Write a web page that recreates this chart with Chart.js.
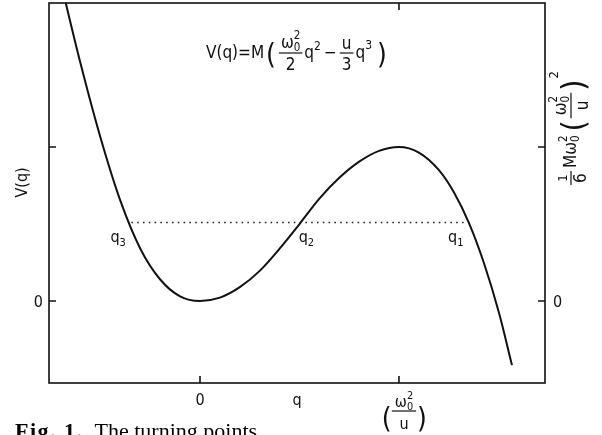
<!DOCTYPE html>
<html>
<head>
<meta charset="utf-8">
<script src="https://cdn.jsdelivr.net/npm/chart.js@4.4.1/dist/chart.umd.min.js"></script>
<style>
  html, body { margin: 0; padding: 0; background: #fff; }
  canvas { display: block; }
</style>
</head>
<body>
<canvas id="potentialChart" width="602" height="435"></canvas>
<script>
// q in units of (w0^2/u), V in units of (1/6) M w0^2 (w0^2/u)^2
const curveQ = [-0.70, -0.60, -0.50, -0.40, -0.30, -0.20, -0.10, 0, 0.10, 0.20, 0.30, 0.40, 0.50, 0.60, 0.70, 0.80, 0.90, 1.00, 1.10, 1.20, 1.276, 1.352, 1.427, 1.503, 1.568];
const curveV = [2.07, 1.54, 1.06, 0.65, 0.34, 0.14, 0.03, 0, 0.022, 0.090, 0.196, 0.34, 0.50, 0.665, 0.80, 0.905, 0.975, 1.0, 0.964, 0.851, 0.706, 0.506, 0.247, -0.078, -0.416];

// energy level and the three turning points q3, q2, q1
const levelQ = [-0.345, 1.345];
const levelV = [0.51, 0.51];
const turningQ = [-0.355, 0.506, 1.352];
const turningNames = ["3", "2", "1"];

const xTicks = [0, 1];
const yTicks = [0, 1];

const ink = "#111";
const FONT = '"DejaVu Sans Condensed", "Liberation Sans Narrow", "DejaVu Sans", sans-serif';

function setFont(ctx, size) {
  ctx.font = size + "px " + FONT;
}
function textW(ctx, s, size) {
  setFont(ctx, size);
  return ctx.measureText(s).width;
}
function put(ctx, s, x, y, size) {
  setFont(ctx, size);
  ctx.fillText(s, x, y);
  return ctx.measureText(s).width;
}
// omega with subscript 0 and superscript 2
function omegaW(ctx, size) {
  return textW(ctx, "ω", size) + textW(ctx, "0", size * 0.68);
}
function omega(ctx, x, y, size) {
  const w = put(ctx, "ω", x, y, size);
  const s = size * 0.68;
  put(ctx, "0", x + w, y + size * 0.2, s);
  put(ctx, "2", x + w, y - size * 0.52, s);
  return omegaW(ctx, size);
}
function bar(ctx, x1, x2, y) {
  ctx.beginPath();
  ctx.moveTo(x1, y);
  ctx.lineTo(x2, y);
  ctx.stroke();
}

const decor = {
  id: "decor",
  afterDatasetsDraw(chart) {
    const { ctx, chartArea: a, scales } = chart;
    const x = scales.x, y = scales.y;
    const S = 16, s = 11;
    ctx.save();
    ctx.strokeStyle = ink;
    ctx.fillStyle = ink;
    ctx.textBaseline = "alphabetic";

    // frame
    ctx.lineWidth = 1.6;
    ctx.strokeRect(a.left, a.top, a.right - a.left, a.bottom - a.top);

    // inward ticks
    ctx.beginPath();
    xTicks.forEach(v => {
      const px = x.getPixelForValue(v);
      ctx.moveTo(px, a.bottom); ctx.lineTo(px, a.bottom - 7);
    });
    const topTick = x.getPixelForValue(xTicks[1]);
    ctx.moveTo(topTick, a.top); ctx.lineTo(topTick, a.top + 7);
    yTicks.forEach(v => {
      const py = y.getPixelForValue(v);
      ctx.moveTo(a.left, py); ctx.lineTo(a.left + 7, py);
      ctx.moveTo(a.right, py); ctx.lineTo(a.right - 7, py);
    });
    ctx.stroke();

    ctx.lineWidth = 1.2;

    // zero labels
    const y0 = y.getPixelForValue(0);
    ctx.textAlign = "right";
    put(ctx, "0", a.left - 6, y0 + 6, S);
    ctx.textAlign = "left";
    put(ctx, "0", a.right + 8, y0 + 6, S);
    ctx.textAlign = "center";
    put(ctx, "0", x.getPixelForValue(0), a.bottom + 22, S);
    put(ctx, "q", (a.left + a.right) / 2, a.bottom + 22, S);

    // bottom label (w0^2/u) under the tick at 1
    ctx.textAlign = "left";
    {
      const cx = x.getPixelForValue(1) + 5;
      const nw = omegaW(ctx, S);
      const fw = nw + 6;
      const fx = cx - fw / 2;
      put(ctx, "(", fx - 10, a.bottom + 45, 28);
      omega(ctx, fx + (fw - nw) / 2, a.bottom + 24, S);
      bar(ctx, fx, fx + fw, a.bottom + 28);
      ctx.textAlign = "center";
      put(ctx, "u", cx, a.bottom + 46, S);
      ctx.textAlign = "left";
      put(ctx, ")", fx + fw + 1, a.bottom + 45, 28);
    }

    // turning point labels
    const lvl = y.getPixelForValue(levelV[0]);
    const offs = [-19, -2, -21];
    turningQ.forEach((q, i) => {
      const px = x.getPixelForValue(q) + offs[i];
      const w = put(ctx, "q", px, lvl + 20, S);
      put(ctx, turningNames[i], px + w, lvl + 24, s);
    });

    // V(q) axis label
    ctx.save();
    ctx.translate(23, y.getPixelForValue(0.77));
    ctx.rotate(-Math.PI / 2);
    ctx.textAlign = "center";
    ctx.textBaseline = "middle";
    put(ctx, "V(q)", 0, 0, S);
    ctx.restore();

    // formula at the top
    {
      const F = 17, f = 12;
      let px = x.getPixelForValue(0.03);
      const base = a.top + 55;
      const barY = base - 5;
      px += put(ctx, "V(q)=M", px, base, F) + 2;
      px += put(ctx, "(", px, base + 6, 28) + 3;
      let nw = omegaW(ctx, F), fw = nw + 4;
      omega(ctx, px + 2, barY - 5, F);
      bar(ctx, px, px + fw, barY);
      ctx.textAlign = "center";
      put(ctx, "2", px + fw / 2, barY + 17, F);
      ctx.textAlign = "left";
      px += fw + 2;
      px += put(ctx, "q", px, base, F);
      px += put(ctx, "2", px, base - 8, f) + 3;
      px += put(ctx, "−", px, base, F) + 3;
      fw = textW(ctx, "3", F) + 4;
      ctx.textAlign = "center";
      put(ctx, "u", px + fw / 2, barY - 4, F);
      put(ctx, "3", px + fw / 2, barY + 17, F);
      ctx.textAlign = "left";
      bar(ctx, px, px + fw, barY);
      px += fw + 2;
      px += put(ctx, "q", px, base, F);
      px += put(ctx, "3", px, base - 9, f) + 5;
      put(ctx, ")", px, base + 6, 28);
    }

    // right axis label, rotated, reading upwards
    ctx.save();
    ctx.translate(a.right + 30, y.getPixelForValue(0) - 115);
    ctx.rotate(-Math.PI / 2);
    {
      const R = 17;
      let px = 0;
      ctx.textAlign = "center";
      put(ctx, "1", px + 8, -8, s + 2);
      put(ctx, "6", px + 8, 11, R);
      bar(ctx, px + 1, px + 15, -4);
      ctx.textAlign = "left";
      px += 18;
      px += put(ctx, "M", px, 1, R);
      px += omega(ctx, px, 1, R) + 4;
      px += put(ctx, "(", px, 9, 32) + 2;
      const nw = omegaW(ctx, R), fw = nw + 6;
      omega(ctx, px + 3, -9, R);
      bar(ctx, px, px + fw, -4);
      ctx.textAlign = "center";
      put(ctx, "u", px + fw / 2, 13, R);
      ctx.textAlign = "left";
      px += fw + 2;
      px += put(ctx, ")", px, 9, 32);
      put(ctx, "2", px + 1, -17, s + 2);
    }
    ctx.restore();

    // caption
    ctx.textAlign = "left";
    ctx.fillStyle = "#000";
    ctx.font = 'bold 22px "Liberation Serif", serif';
    ctx.letterSpacing = "1.5px";
    const fig = "Fig. 1.";
    ctx.fillText(fig, 15, 438);
    const figW = ctx.measureText(fig).width;
    ctx.letterSpacing = "0px";
    ctx.font = '22px "Liberation Serif", serif';
    ctx.fillText("The turning points", 15 + figW + 11, 438);

    ctx.restore();
  }
};

new Chart(document.getElementById("potentialChart"), {
  type: "scatter",
  data: {
    datasets: [
      {
        label: "V(q)",
        data: curveQ.map((q, i) => ({ x: q, y: curveV[i] })),
        showLine: true,
        borderColor: ink,
        borderWidth: 2,
        pointRadius: 0,
        cubicInterpolationMode: "monotone",
      },
      {
        label: "level",
        data: levelQ.map((q, i) => ({ x: q, y: levelV[i] })),
        showLine: true,
        borderColor: "#222",
        borderWidth: 1.6,
        borderDash: [1.6, 4.2],
        pointRadius: 0,
      },
    ],
  },
  options: {
    responsive: false,
    animation: false,
    layout: { padding: { left: 49, right: 57, top: 3, bottom: 52 } },
    scales: {
      x: { type: "linear", min: -0.759, max: 1.734, display: false },
      y: { type: "linear", min: -0.532, max: 1.935, display: false },
    },
    plugins: { legend: { display: false }, tooltip: { enabled: false } },
  },
  plugins: [decor],
});
</script>
</body>
</html>
